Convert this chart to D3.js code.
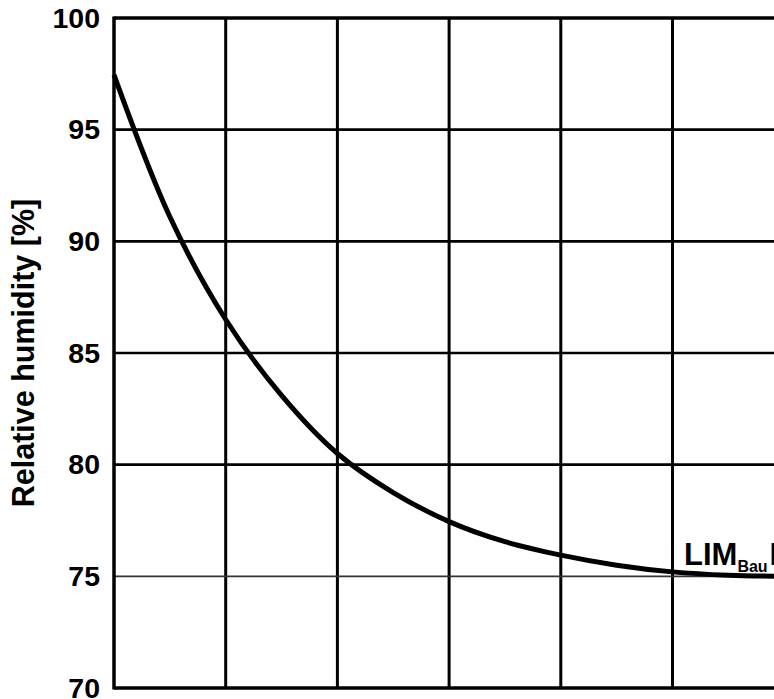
<!DOCTYPE html>
<html>
<head>
<meta charset="utf-8">
<script src="https://cdn.jsdelivr.net/npm/d3@7"></script>
<style>
  html, body { margin: 0; padding: 0; background: #fff; }
  svg { display: block; }
  text { font-family: "Liberation Sans", Arial, sans-serif; font-weight: bold; fill: #000; }
</style>
</head>
<body>
<svg id="chart" width="774" height="699"></svg>
<script>
// Data
const xTicks = [0, 1, 2, 3, 4, 5, 6];
const yTicks = [70, 75, 80, 85, 90, 95, 100];
const xs = [0, 0.5, 1, 1.5, 2, 2.5, 3, 3.5, 4, 4.5, 5, 5.5, 6];
const rh = [97.45, 91.1, 86.5, 83.1, 80.5, 78.75, 77.45, 76.55, 75.95, 75.5, 75.2, 75.05, 75.0];
const limValue = 75;

const svg = d3.select("#chart");

const plotLeft = 114, plotTop = 18, plotBottom = 688, cell = 111.7;

const x = d3.scaleLinear().domain([0, 6]).range([plotLeft, plotLeft + 6 * cell]);
const y = d3.scaleLinear().domain([70, 100]).range([plotBottom, plotTop]);

const g = svg.append("g");

// Vertical grid lines
g.append("g")
    .selectAll("line")
    .data(xTicks.filter(d => d > 0))
    .enter().append("line")
    .attr("x1", d => x(d)).attr("x2", d => x(d))
    .attr("y1", y(100)).attr("y2", y(70))
    .attr("stroke", "#000")
    .attr("stroke-width", 3);

// Horizontal grid lines
g.append("g")
    .selectAll("line")
    .data(yTicks.filter(d => d > 70 && d < 100))
    .enter().append("line")
    .attr("x1", x(0)).attr("x2", x(6))
    .attr("y1", d => y(d)).attr("y2", d => y(d))
    .attr("stroke", d => d === limValue ? "#333" : "#000")
    .attr("stroke-width", d => d === limValue ? 1.8 : 2.6);

// Frame: top, left, bottom
g.append("line").attr("x1", x(0)).attr("x2", x(6)).attr("y1", y(100)).attr("y2", y(100))
    .attr("stroke", "#000").attr("stroke-width", 3.5);
g.append("line").attr("x1", x(0)).attr("x2", x(6)).attr("y1", y(70)).attr("y2", y(70))
    .attr("stroke", "#000").attr("stroke-width", 3.5);
g.append("line").attr("x1", x(0)).attr("x2", x(0)).attr("y1", y(100) - 1.5).attr("y2", y(70) + 1.5)
    .attr("stroke", "#000").attr("stroke-width", 3.5);

// Y axis labels
const yAxis = d3.axisLeft(y).tickValues(yTicks).tickSize(0).tickPadding(14);
const ya = g.append("g").attr("transform", `translate(${plotLeft},0)`).call(yAxis);
ya.select(".domain").remove();
ya.selectAll("text")
    .attr("font-size", 28.5)
    .attr("font-family", "'Liberation Sans', Arial, sans-serif")
    .attr("font-weight", "bold")
    .attr("fill", "#000");

// Y axis title
svg.append("text")
    .attr("transform", `translate(34,${(plotTop + plotBottom) / 2}) rotate(-90)`)
    .attr("text-anchor", "middle")
    .attr("font-size", 30.5)
    .text("Relative humidity [%]");

// Curve
const line = d3.line()
    .x((d, i) => x(xs[i]))
    .y(d => y(d))
    .curve(d3.curveCatmullRom.alpha(0.5));

g.append("path")
    .datum(rh)
    .attr("d", line)
    .attr("fill", "none")
    .attr("stroke", "#000")
    .attr("stroke-width", 5)
    .attr("stroke-linejoin", "round");

// LIM label
const lim = svg.append("text")
    .attr("x", 684)
    .attr("y", 565)
    .attr("font-size", 31);
lim.append("tspan").text("LIM");
lim.append("tspan").attr("font-size", 16).attr("dy", 7).text("Bau");
lim.append("tspan").attr("dy", -7).attr("dx", 2).text("I");
</script>
</body>
</html>
